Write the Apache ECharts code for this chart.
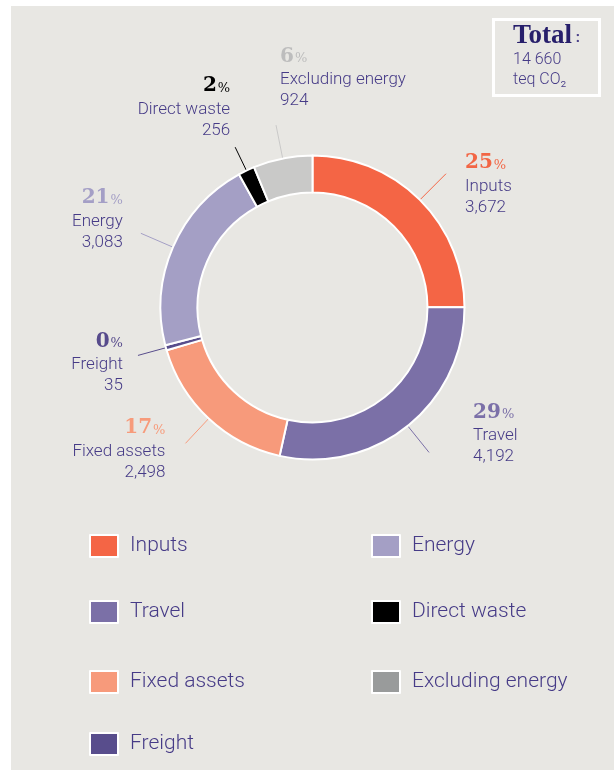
<!DOCTYPE html>
<html>
<head>
<meta charset="utf-8">
<script src="https://cdn.jsdelivr.net/npm/echarts@6/dist/echarts.min.js"></script>
<style>
body{margin:0;background:#fff;}
#container{position:absolute;left:11px;top:6px;width:603px;height:764px;background:#e8e7e3;}
</style>
</head>
<body>
<div id="container"></div>
<script>
// chart data
var categories = ['Inputs', 'Travel', 'Fixed assets', 'Freight', 'Energy', 'Direct waste', 'Excluding energy'];
var values = [3672, 4192, 2498, 35, 3083, 256, 924];
var sliceColors = ['#f46545', '#7b70a7', '#f79a7b', '#584d8c', '#a49fc5', '#000000', '#c9c9c8'];
var pctColors = ['#f26645', '#7b70a8', '#f79b7b', '#574b8c', '#a49fc6', '#000000', '#bdbdbd'];
var legendColors = ['#f46545', '#7b70a7', '#f79a7b', '#584d8c', '#a49fc5', '#000000', '#999b9b'];
var legendRows = [['Inputs', 'Energy'], ['Travel', 'Direct waste'], ['Fixed assets', 'Excluding energy'], ['Freight']];
var totalUnit = 'teq CO₂';

// label tweaks: line length + padding [top,right,bottom,left]
var lineLen = [37, 34, 34, 29, 35, 26, 34];
var labelPad = [[21,0,0,14],[0,0,38,39],[11,15,0,0],[14,10,0,0],[0,13,28,0],[0,0,80,0],[0,0,95,9]];

var txtColor = '#463b87';
var total = 0;
for (var i = 0; i < values.length; i++) total += values[i];

var rich = {
	n: {fontFamily: 'Roboto', fontWeight: 300, fontSize: 17, lineHeight: 21, color: txtColor},
	v: {fontFamily: 'Roboto', fontWeight: 300, fontSize: 17, lineHeight: 21, color: txtColor}
};
var pieData = [];
for (var i = 0; i < categories.length; i++) {
	rich['p' + i] = {fontFamily: 'DejaVu Serif', fontWeight: 'bold', fontSize: 20, lineHeight: 26, color: pctColors[i]};
	rich['s' + i] = {fontFamily: 'DejaVu Serif', fontSize: 13, lineHeight: 26, padding: [5, 0, 0, 1], color: pctColors[i]};
	pieData.push({
		name: categories[i],
		value: values[i],
		itemStyle: {color: sliceColors[i]},
		label: {padding: labelPad[i]},
		labelLine: {length: lineLen[i]}
	});
}

var legends = [];
var rowTops = [528, 594, 664, 726];
for (var r = 0; r < legendRows.length; r++) {
	var d = [];
	for (var k = 0; k < legendRows[r].length; k++) {
		var idx = categories.indexOf(legendRows[r][k]);
		d.push({name: legendRows[r][k], itemStyle: {color: legendColors[idx]}});
	}
	legends.push({
		data: d,
		orient: 'horizontal',
		left: 78,
		top: rowTops[r],
		padding: 0,
		itemGap: 41,
		itemWidth: 28,
		itemHeight: 22,
		icon: 'rect',
		selectedMode: false,
		itemStyle: {borderColor: '#fff', borderWidth: 2},
		formatter: '{a|{name}}',
		textStyle: {
			rich: {a: {fontFamily: 'Roboto', fontWeight: 300, fontSize: 21, lineHeight: 22, color: txtColor, width: 200, padding: [0, 0, 0, 7]}}
		}
	});
}

var myChart = echarts.init(document.getElementById('container'));
var option = {
	animation: false,
	title: {
		text: '{t|Total}{c| :}\n{v|' + String(total).replace(/\B(?=(\d{3})+(?!\d))/g, ' ') + '}\n{v|' + totalUnit + '}',
		left: 482,
		top: 13,
		padding: [3, 14, 8, 20],
		borderColor: '#fff',
		borderWidth: 3,
		textStyle: {
			rich: {
				t: {fontFamily: 'Liberation Serif', fontWeight: 'bold', fontSize: 27, lineHeight: 28, color: '#271f6b'},
				c: {fontFamily: 'Roboto', fontSize: 15, lineHeight: 28, padding: [4, 0, 0, 0], color: txtColor},
				v: {fontFamily: 'Roboto', fontWeight: 300, fontSize: 16, lineHeight: 20, width: 73, color: txtColor}
			}
		}
	},
	legend: legends,
	series: [{
		type: 'pie',
		center: [301.5, 301.5],
		radius: [115, 152],
		startAngle: 90,
		clockwise: true,
		minAngle: 2,
		avoidLabelOverlap: false,
		emphasis: {disabled: true},
		itemStyle: {borderColor: '#fff', borderWidth: 2},
		label: {
			show: true,
			position: 'outside',
			formatter: function (p) {
				var pct = Math.round(p.value / total * 100);
				return '{p' + p.dataIndex + '|' + pct + '}{s' + p.dataIndex + '|%}\n{n|' + p.name + '}\n{v|' + p.value.toLocaleString('en-US') + '}';
			},
			rich: rich
		},
		labelLine: {show: true, length2: 0, smooth: false, lineStyle: {width: 1}},
		labelLayout: function (p) {
			if (p.dataIndex === 6) return {align: 'left'};
			return {};
		},
		data: pieData
	}]
};
myChart.setOption(option);
</script>
</body>
</html>
